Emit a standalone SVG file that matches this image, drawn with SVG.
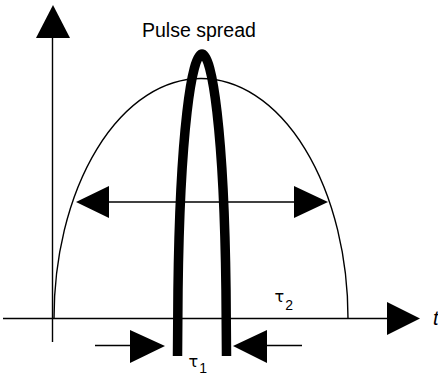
<svg xmlns="http://www.w3.org/2000/svg" width="438" height="376" viewBox="0 0 438 376">
<style>
.ln{fill:none;stroke:#000;stroke-width:1.4}
.hd{fill:#000;stroke:none}
.txt{font-family:"Liberation Sans",Arial,sans-serif;fill:#000}
.sym{font-family:"DejaVu Sans","Liberation Sans",sans-serif;fill:#000}
</style>
<rect width="438" height="376" fill="#fff"/>
<g id="axes">
<line class="ln" x1="52.5" y1="36" x2="52.5" y2="342"/>
<polygon class="hd" points="53,5 36,38 70,38"/>
<line class="ln" x1="3" y1="318.5" x2="388" y2="318.5"/>
<polygon class="hd" points="387,302 420,318.5 387,335"/>
<text class="txt" x="433" y="325" font-size="20" font-style="italic">t</text>
</g>
<g id="spread-curve">
<path class="ln" d="M54,318.5 A147,240 0 0 1 348,318.5"/>
</g>
<g id="pulse">
<path d="M177.5,356 L178,290 C180,130 192,54 202,54 C212,54 224,130 226,290 L226.5,356" fill="none" stroke="#000" stroke-width="9.5"/>
</g>
<g id="connectors">
<line class="ln" x1="108" y1="202" x2="295" y2="202"/>
<polygon class="hd" points="76,202 109,186 109,218"/>
<polygon class="hd" points="328,202 294,186 294,218"/>
<line class="ln" x1="95" y1="345.5" x2="131" y2="345.5"/>
<polygon class="hd" points="130,330 165,346 130,363"/>
<line class="ln" x1="266" y1="345.5" x2="302" y2="345.5"/>
<polygon class="hd" points="267,330 233,346 267,363"/>
</g>
<g id="labels">
<text class="txt" x="142" y="37" font-size="19.5">Pulse spread</text>
<text class="sym" x="188.5" y="367" font-size="16">τ<tspan class="txt" font-size="14" dy="6" dx="1">1</tspan></text>
<text class="sym" x="274.5" y="302" font-size="16">τ<tspan class="txt" font-size="14" dy="8" dx="1">2</tspan></text>
</g>
</svg>
